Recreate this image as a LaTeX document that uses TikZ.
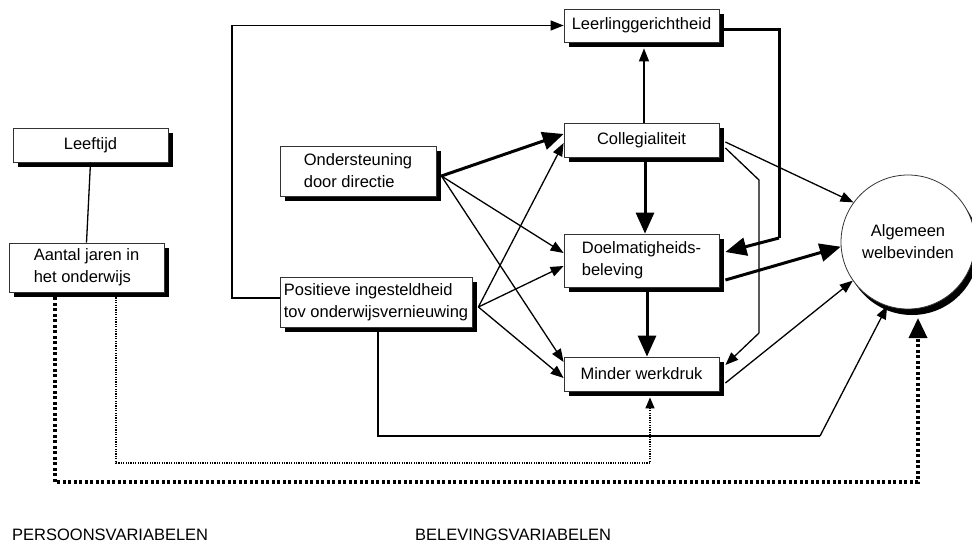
\documentclass[tikz,border=0pt]{standalone}
\usepackage{fontspec}
\setmainfont{Liberation Sans}
\usetikzlibrary{arrows.meta,shadows,calc}
\begin{document}
\begin{tikzpicture}[x=1pt,y=-1pt,
  txt/.style={font=\fontsize{16.5}{22}\selectfont},
  box/.style={txt,draw=black!80,line width=0.8pt,fill=white,align=left,inner sep=2pt,
    general shadow={fill=black,shadow xshift=5pt,shadow yshift=-5pt}},
  thin/.style={line width=1.3pt,-{Triangle[length=13pt,width=10pt]}},
  thick/.style={line width=3pt,-{Triangle[length=21pt,width=18pt]}},
  plain/.style={line width=1.3pt},
  dotthin/.style={line width=1.3pt,dash pattern=on 1.2pt off 1.2pt,-{Triangle[length=11pt,width=9pt]}},
  dotthick/.style={line width=3.5pt,dash pattern=on 3pt off 2.5pt,-{Triangle[length=20pt,width=18pt]}}
]
\useasboundingbox (0,0) rectangle (972,544);

% boxes
\node[box,minimum width=155pt,minimum height=34pt] (lft) at (90.5,145) {Leeftijd};
\node[box,minimum width=155pt,minimum height=49pt] (aan) at (86.5,267.5) {Aantal jaren in\\het onderwijs};
\node[box,minimum width=156pt,minimum height=50pt] (ond) at (358,171) {Ondersteuning\\door directie};
\node[box,minimum width=192pt,minimum height=50pt] (pos) at (376,302) {Positieve ingesteldheid\\tov onderwijsvernieuwing};
\node[box,minimum width=155pt,minimum height=33pt] (leer) at (641.5,25.5) {Leerlinggerichtheid};
\node[box,minimum width=155pt,minimum height=34pt] (col) at (641.5,140) {Collegialiteit};
\node[box,minimum width=155pt,minimum height=53pt] (doel) at (641.5,260.5) {Doelmatigheids-\\beleving};
\node[box,minimum width=155pt,minimum height=34pt] (min) at (641.5,374) {Minder werkdruk};

% circle with shadow
\fill[black] (912,248) circle (67);
\node[txt,draw=black!80,line width=0.8pt,fill=white,circle,minimum size=134pt,inner sep=0pt,align=center] (alg) at (908,242) {Algemeen\\welbevinden};

% labels
\node[txt,anchor=west,inner sep=0pt] (lab1) at (12,535) {PERSOONSVARIABELEN};
\node[txt,anchor=west,inner sep=0pt] (lab2) at (415,535) {BELEVINGSVARIABELEN};

% connectors
\draw[plain] (lft.south) -- (aan.north);

\draw[thin] ([yshift=4pt]pos.west) -- (232,298) |- (leer.west);
\draw[line width=3pt] ([shift={(5pt,-4pt)}]leer.east) -- (779,29.5) -- (779,238);
\draw[thick] (779,238) -- ([shift={(6pt,8.5pt)}]doel.east);
\draw[thin] ([xshift=2.5pt]col.north) -- ([shift={(2.5pt,-6pt)}]leer.south);
\draw[thick] ([shift={(3.5pt,-5pt)}]col.south) -- ([xshift=3.5pt]doel.north);
\draw[thick] ([shift={(5.5pt,-5pt)}]doel.south) -- ([xshift=5.5pt]min.north);

\draw[thin] ([shift={(6pt,-2pt)}]col.east) -- (alg.144);
\draw[plain] ([shift={(6pt,-8pt)}]col.east) -- (759,180) -- (759,333);
\draw[thin] (759,333) -- ([shift={(6pt,9pt)}]min.east);
\draw[thick] ([shift={(6pt,-19.5pt)}]doel.east) -- (alg.184);
\draw[thin] ([shift={(6pt,-9pt)}]min.east) -- (alg.215);

\draw[plain] ([shift={(2pt,-5pt)}]pos.south) |- (820,436);
\draw[thin] (820,436) -- (alg.252);

\draw[thick] ([shift={(5pt,-5pt)}]ond.east) -- ([yshift=6pt]col.west);
\draw[thin] ([shift={(5pt,-5pt)}]ond.east) -- ([yshift=7.5pt]doel.west);
\draw[thin] ([shift={(5pt,-5pt)}]ond.east) -- ([yshift=12pt]min.west);
\draw[thin] ([shift={(6pt,-5pt)}]pos.east) -- ([yshift=-3pt]col.west);
\draw[thin] ([shift={(6pt,-5pt)}]pos.east) -- ([yshift=-5.5pt]doel.west);
\draw[thin] ([shift={(6pt,-5pt)}]pos.east) -- ([yshift=-4pt]min.west);

\draw[dotthin] ([shift={(29.5pt,-5pt)}]aan.south) -- (116,463) -- (650,463) -- ([shift={(8.5pt,-6pt)}]min.south);
\draw[dotthick] ([shift={(-31.5pt,-5pt)}]aan.south) -- (55,482) -- (918,482) -- (918,318);
\end{tikzpicture}
\end{document}
